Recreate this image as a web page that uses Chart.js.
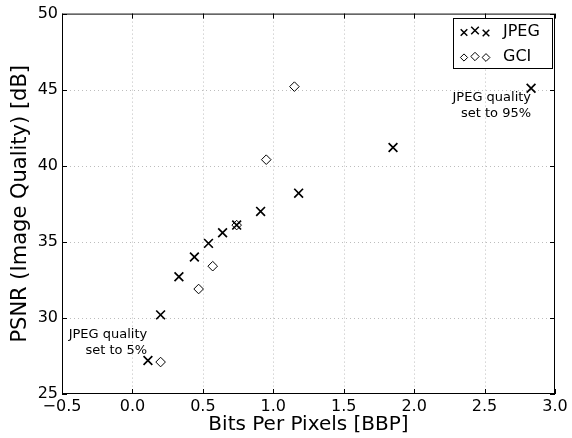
<!DOCTYPE html>
<html>
<head>
<meta charset="utf-8">
<script src="https://cdn.jsdelivr.net/npm/chart.js@4"></script>
<style>
  html, body { margin: 0; padding: 0; background: #fff; }
  #wrap { width: 572px; height: 438px; }
</style>
</head>
<body>
<div id="wrap"><canvas id="psnrChart" width="572" height="438"></canvas></div>
<script>
// values
const jpegBpp  = [0.11, 0.20, 0.33, 0.44, 0.54, 0.64, 0.74, 0.91, 1.18, 1.85, 2.83];
const jpegPsnr = [27.2, 30.2, 32.7, 34.0, 34.9, 35.6, 36.1, 37.0, 38.2, 41.2, 45.1];
const gciBpp   = [0.20, 0.47, 0.57, 0.74, 0.95, 1.15];
const gciPsnr  = [27.1, 31.9, 33.4, 36.1, 40.4, 45.2];

const xTicks = [-0.5, 0.0, 0.5, 1.0, 1.5, 2.0, 2.5, 3.0];
const yTicks = [25, 30, 35, 40, 45, 50];

const seriesNames = ['JPEG', 'GCI'];

// annotation text anchored at the right edge, first line centre
const noteText = [['JPEG quality', 'set to 95%'], ['JPEG quality', 'set to 5%']];
const noteX = [2.83, 0.105];
const noteY = [44.5, 28.9];

const FONT = "'DejaVu Sans', sans-serif";

function toPoints(xs, ys) {
  return xs.map((x, i) => ({ x: x, y: ys[i] }));
}

function drawMarker(ctx, style, x, y, r) {
  ctx.beginPath();
  if (style === 'cross') {
    ctx.moveTo(x - r, y - r); ctx.lineTo(x + r, y + r);
    ctx.moveTo(x - r, y + r); ctx.lineTo(x + r, y - r);
    ctx.lineWidth = 1.5;
    ctx.stroke();
  } else {
    ctx.moveTo(x, y - r); ctx.lineTo(x + r, y); ctx.lineTo(x, y + r); ctx.lineTo(x - r, y);
    ctx.closePath();
    ctx.fillStyle = '#fff';
    ctx.fill();
    ctx.lineWidth = 1;
    ctx.stroke();
  }
}

// dotted grid behind the points
const gridPlugin = {
  id: 'dotGrid',
  beforeDatasetsDraw(chart) {
    const { ctx, chartArea: a, scales } = chart;
    ctx.save();
    ctx.strokeStyle = '#bdbdbd';
    ctx.lineWidth = 1;
    ctx.setLineDash([1, 3]);
    ctx.beginPath();
    xTicks.slice(1, -1).forEach(v => {
      const px = Math.round(scales.x.getPixelForValue(v)) + 0.5;
      ctx.moveTo(px, a.top); ctx.lineTo(px, a.bottom);
    });
    yTicks.slice(1, -1).forEach(v => {
      const py = Math.round(scales.y.getPixelForValue(v)) + 0.5;
      ctx.moveTo(a.left, py); ctx.lineTo(a.right, py);
    });
    ctx.stroke();
    ctx.restore();
  }
};

// inward ticks, frame, notes and legend, like the matplotlib axes
const framePlugin = {
  id: 'frame',
  afterDatasetsDraw(chart) {
    const { ctx, chartArea: a, scales } = chart;
    ctx.save();
    ctx.strokeStyle = '#000';
    ctx.lineWidth = 1;
    ctx.strokeRect(a.left + 0.5, a.top + 0.5, a.right - a.left - 1, a.bottom - a.top - 1);
    ctx.beginPath();
    xTicks.forEach(v => {
      const px = Math.round(scales.x.getPixelForValue(v)) + 0.5;
      ctx.moveTo(px, a.bottom); ctx.lineTo(px, a.bottom - 5);
      ctx.moveTo(px, a.top); ctx.lineTo(px, a.top + 5);
    });
    yTicks.forEach(v => {
      const py = Math.round(scales.y.getPixelForValue(v)) + 0.5;
      ctx.moveTo(a.left, py); ctx.lineTo(a.left + 5, py);
      ctx.moveTo(a.right, py); ctx.lineTo(a.right - 5, py);
    });
    ctx.stroke();

    // annotations
    ctx.fillStyle = '#000';
    ctx.font = '13px ' + FONT;
    ctx.textAlign = 'right';
    ctx.textBaseline = 'middle';
    noteText.forEach((lines, i) => {
      const px = scales.x.getPixelForValue(noteX[i]);
      const py = scales.y.getPixelForValue(noteY[i]);
      lines.forEach((t, j) => ctx.fillText(t, px, py + j * 16));
    });

    // legend box with three markers per entry
    const bx = 453, by = 18, bw = 99, bh = 50;
    ctx.fillStyle = '#fff';
    ctx.fillRect(bx, by, bw, bh);
    ctx.strokeRect(bx + 0.5, by + 0.5, bw, bh);
    const styles = ['cross', 'diamond'];
    const sizes = [[3.3, 3.8, 3.3], [3.6, 4.2, 3.9]];
    const lift = [[0.5, -1.5, 1], [0.5, -0.5, 0.5]];
    seriesNames.forEach((name, i) => {
      const cy = by + 14 + i * 25;
      [464, 475, 486].forEach((mx, k) => {
        ctx.strokeStyle = '#000';
        drawMarker(ctx, styles[i], mx, cy + lift[i][k], sizes[i][k]);
      });
      ctx.fillStyle = '#000';
      ctx.font = '16px ' + FONT;
      ctx.textAlign = 'left';
      ctx.fillText(name, 503, cy);
    });
    ctx.restore();
  }
};

const ctx = document.getElementById('psnrChart').getContext('2d');
new Chart(ctx, {
  type: 'scatter',
  data: {
    datasets: [
      {
        label: seriesNames[0],
        data: toPoints(jpegBpp, jpegPsnr),
        pointStyle: 'crossRot',
        pointRadius: 6.2,
        borderColor: '#000',
        borderWidth: 1.7,
        backgroundColor: '#000'
      },
      {
        label: seriesNames[1],
        data: toPoints(gciBpp, gciPsnr),
        pointStyle: 'rectRot',
        pointRadius: 4.8,
        borderColor: '#000',
        borderWidth: 1,
        backgroundColor: '#fff'
      }
    ]
  },
  options: {
    responsive: false,
    animation: false,
    devicePixelRatio: 1,
    layout: { padding: { top: 13, right: 17, left: 0, bottom: 0 } },
    plugins: {
      legend: { display: false },
      tooltip: { enabled: false }
    },
    scales: {
      x: {
        type: 'linear',
        min: -0.5,
        max: 3.0,
        afterBuildTicks: s => { s.ticks = xTicks.map(v => ({ value: v })); },
        afterFit: s => { s.height = 44; },
        ticks: {
          color: '#000',
          font: { family: FONT, size: 16 },
          padding: 3,
          maxRotation: 0,
          callback: v => (v < 0 ? '\u2212' : '') + Math.abs(v).toFixed(1)
        },
        grid: { display: false, drawTicks: false },
        border: { display: false },
        title: {
          display: true,
          text: 'Bits Per Pixels [BBP]',
          color: '#000',
          font: { family: FONT, size: 20 },
          padding: { top: 0, bottom: 1 }
        }
      },
      y: {
        type: 'linear',
        min: 25,
        max: 50,
        afterBuildTicks: s => { s.ticks = yTicks.map(v => ({ value: v })); },
        afterFit: s => { s.width = 62; },
        ticks: {
          color: '#000',
          font: { family: FONT, size: 16 },
          padding: 4,
          callback: v => String(v)
        },
        grid: { display: false, drawTicks: false },
        border: { display: false },
        title: {
          display: true,
          text: 'PSNR (Image Quality) [dB]',
          color: '#000',
          font: { family: FONT, size: 21 },
          padding: { top: 8, bottom: 0 }
        }
      }
    }
  },
  plugins: [gridPlugin, framePlugin]
});
</script>
</body>
</html>
